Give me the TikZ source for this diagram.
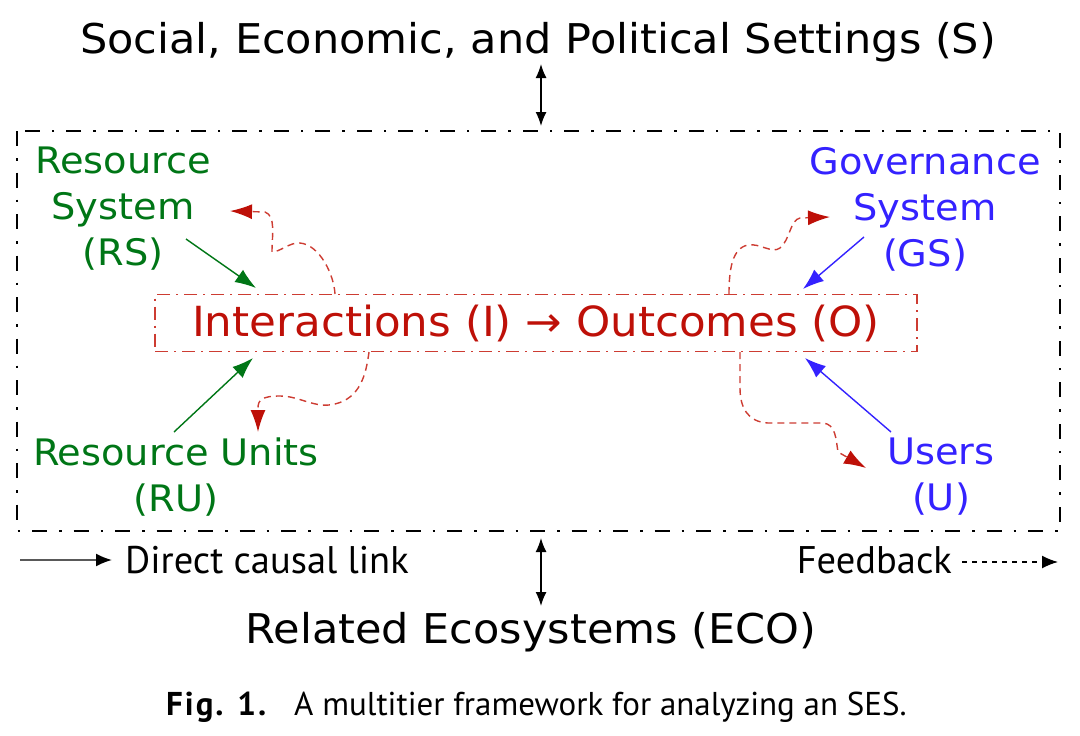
\documentclass[tikz,border=0pt]{standalone}
\usepackage{fontspec}
\setmainfont{DejaVu Sans}[FakeStretch=1.05]
\newfontfamily\legfont{PT Sans}
\usetikzlibrary{arrows.meta}
\definecolor{rsgreen}{RGB}{0,118,22}
\definecolor{iored}{RGB}{190,16,8}
\definecolor{fbred}{RGB}{205,60,50}
\definecolor{gsblue}{RGB}{52,34,255}
\tikzset{
  big/.style={font=\fontsize{41}{46}\selectfont, inner sep=0pt},
  lab/.style={font=\fontsize{36.5}{46}\selectfont, align=center, inner sep=0pt},
  legtext/.style={font=\legfont\fontsize{38.5}{42}\selectfont, inner sep=0pt},
  captext/.style={font=\legfont\fontsize{33}{36}\selectfont, anchor=west, inner sep=0pt},
  causal/.style={line width=1.4pt, -{Latex[length=21pt,width=15pt]}},
  fback/.style={draw=fbred, line width=1.4pt, dash pattern=on 7pt off 5pt,
    -{Latex[length=22pt,width=15pt,color=iored,fill=iored]}},
  dbl/.style={line width=1.5pt, {Latex[length=14pt,width=11pt]}-{Latex[length=14pt,width=11pt]}},
}
\begin{document}
\begin{tikzpicture}[x=1pt,y=-1pt]
\useasboundingbox (0,0) rectangle (1080,736);
% title
\node[big] (S) at (538,42) {Social, Economic, and Political Settings (S)};
% outer box
\draw[line width=2.6pt, dash pattern=on 15pt off 12pt on 2.5pt off 12pt] (17,131) rectangle (1060,531);
\coordinate (topin) at (541,126);
\coordinate (botin) at (541,538);
\draw[dbl] (541,64) -- (topin);
% inner box
\node[draw=fbred, line width=1.3pt, dash pattern=on 13pt off 6pt on 2pt off 6pt,
  minimum width=762pt, minimum height=57pt, inner sep=0pt, text=iored,
  font=\fontsize{41.5}{46}\selectfont] (io) at (536,323) {Interactions (I) → Outcomes (O)};
% labels
\node[lab, text=rsgreen] (rs) at (123,209) {Resource\\System\\(RS)};
\node[lab, text=gsblue] (gs) at (925,209) {Governance\\System\\(GS)};
\node[lab, text=rsgreen] (ru) at (176,477) {Resource Units\\(RU)};
\node[lab, text=gsblue] (u) at (941,477) {Users\\(U)};
% arrow coordinates
\coordinate (rsS) at (186,239); \coordinate (rsE) at (256,288);
\coordinate (ruS) at (174,432); \coordinate (ruE) at (253,358);
\coordinate (gsS) at (864,237); \coordinate (gsE) at (803,289);
\coordinate (uS) at (891,432);  \coordinate (uE) at (805,358);
\draw[causal, rsgreen] (rsS) -- (rsE);
\draw[causal, rsgreen] (ruS) -- (ruE);
\draw[causal, gsblue] (gsS) -- (gsE);
\draw[causal, gsblue] (uS) -- (uE);
% feedback curves
\coordinate (f1) at (335,294);
\draw[fback] (f1) .. controls (334,275) and (320,245) .. (300,243)
  .. controls (290,242) and (280,252) .. (272,252)
  .. controls (272,235) and (276,216) .. (265,212)
  -- (230,211);
\coordinate (f2) at (369,352);
\draw[fback] (f2) .. controls (366,375) and (360,398) .. (335,404)
  .. controls (315,409) and (300,396) .. (280,396)
  .. controls (262,396) and (258,400) .. (258,408)
  -- (258,432);
\coordinate (f3) at (729,294);
\draw[fback] (f3) .. controls (729,270) and (732,248) .. (748,245)
  .. controls (760,243) and (772,254) .. (780,248)
  .. controls (790,240) and (790,220) .. (800,218)
  -- (830,217);
\coordinate (f4) at (740,352);
\draw[fback] (f4) -- (740,388)
  .. controls (740,408) and (748,422) .. (768,423)
  -- (823,423)
  .. controls (836,424) and (836,440) .. (838,452)
  -- (866,468);
% legend
\coordinate (l1a) at (20,560); \coordinate (l1b) at (112,560);
\draw[line width=1.8pt, black!65, -{Latex[length=16pt,width=13pt,color=black]}] (l1a) -- (l1b);
\node[legtext, anchor=west] (leg1) at (125,560) {Direct causal link};
\node[legtext, anchor=east] (leg2) at (952,560) {Feedback};
\coordinate (l2a) at (962,562); \coordinate (l2b) at (1058,562);
\draw[line width=1.4pt, dash pattern=on 5pt off 5pt, -{Latex[length=16pt,width=13pt]}] (l2a) -- (l2b);
% bottom
\draw[dbl] (botin) -- (541,606);
\node[big] (eco) at (531,632) {Related Ecosystems (ECO)};
\node[captext] (fig) at (166,707) {\addfontfeature{LetterSpace=6}\textbf{Fig. 1.}};
\node[captext] (cap) at (294,707) {A multitier framework for analyzing an SES.};
\end{tikzpicture}
\end{document}
